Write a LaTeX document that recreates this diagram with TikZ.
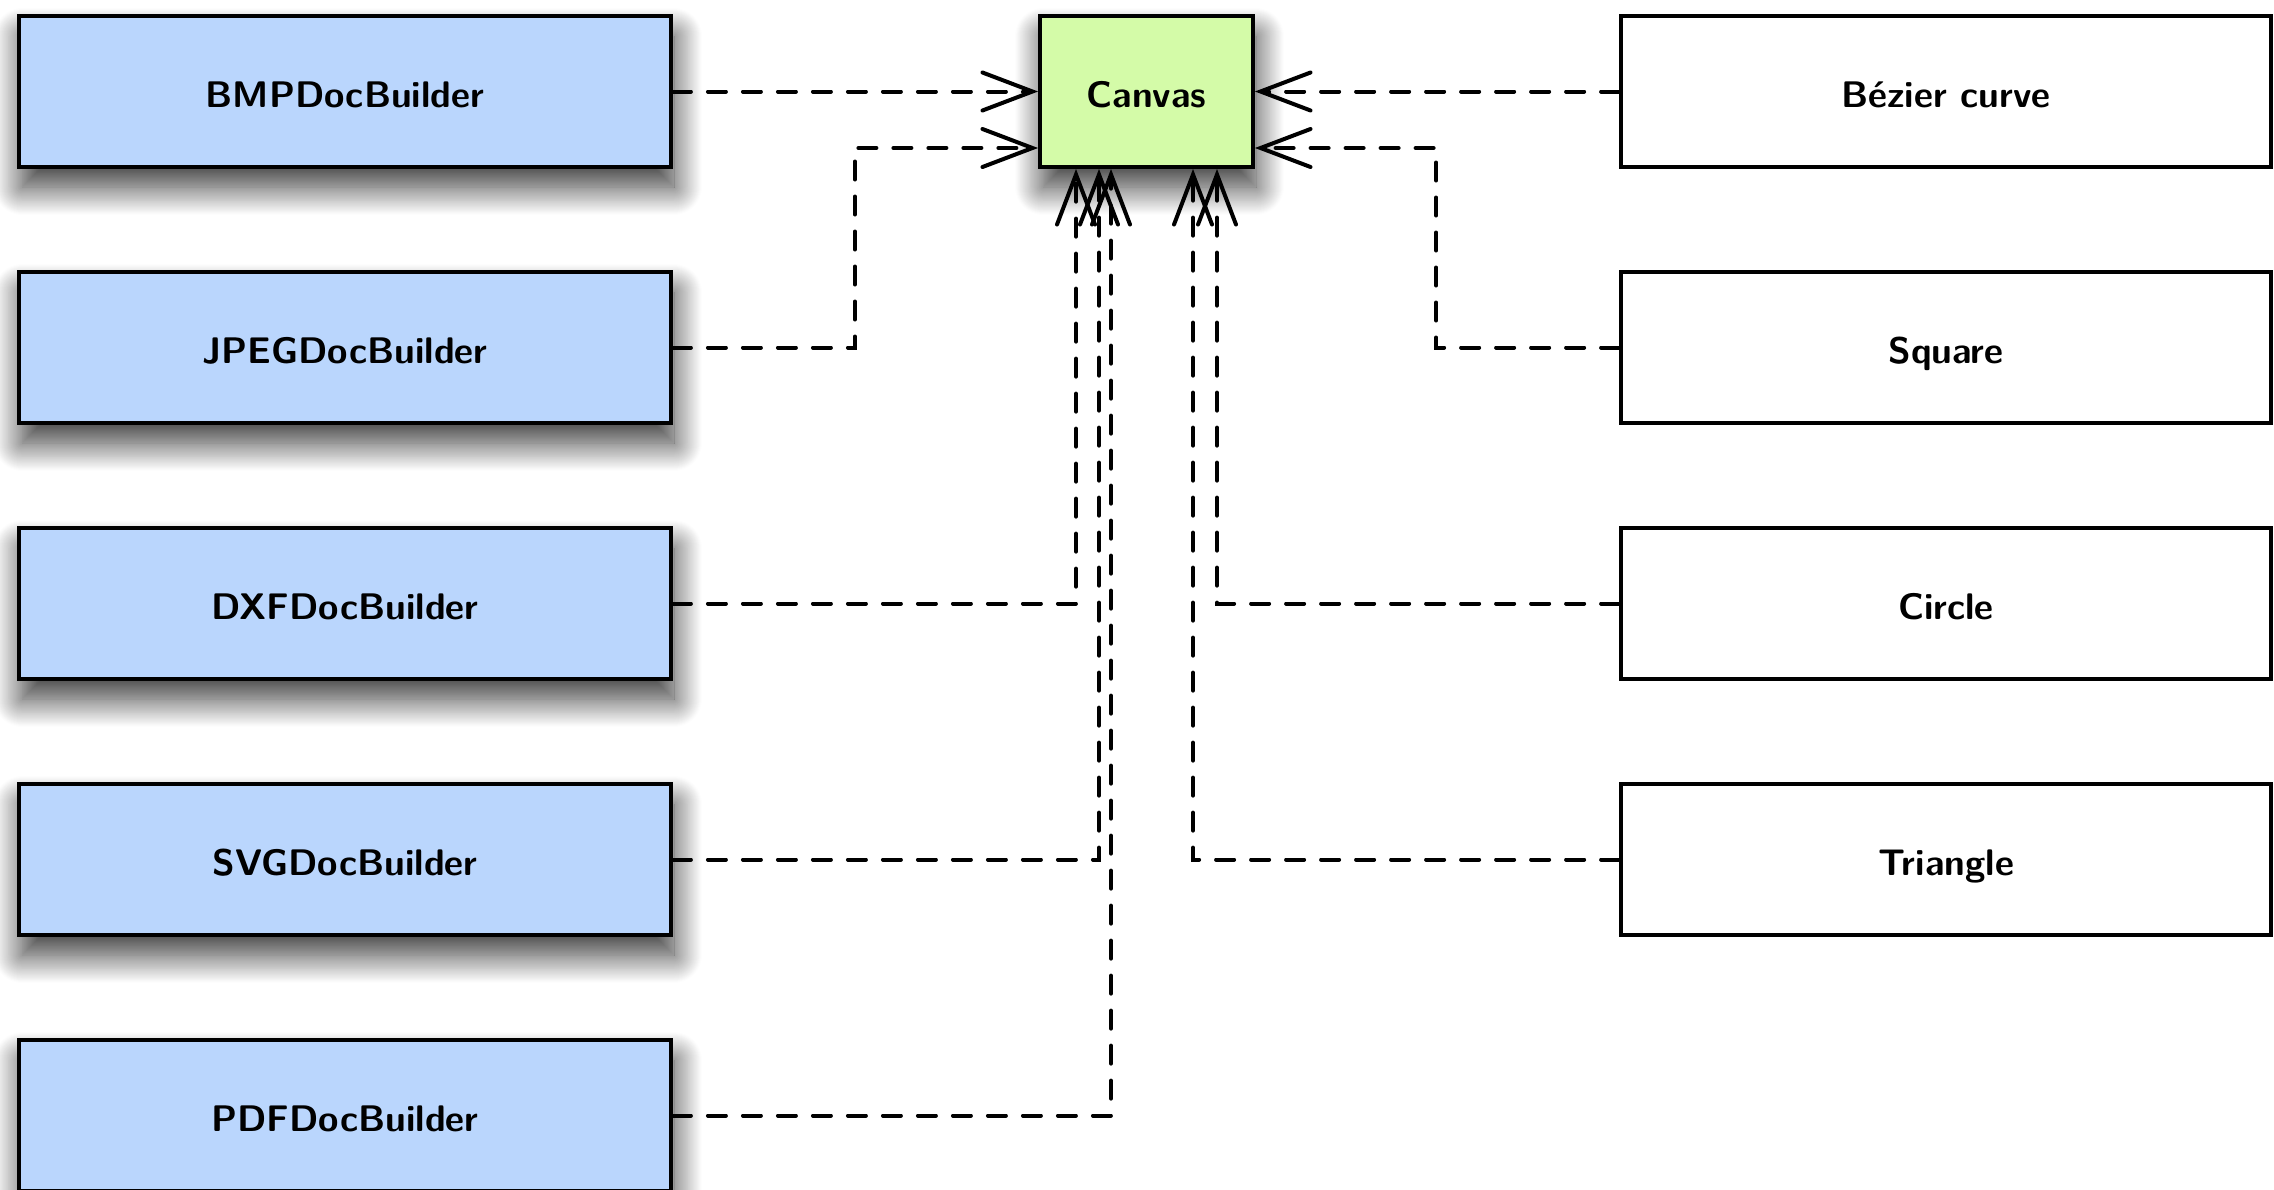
\documentclass[tikz,border=0pt]{standalone}
\usetikzlibrary{arrows.meta,shadows.blur,calc}
\definecolor{builderblue}{RGB}{186,214,253}
\definecolor{canvasgreen}{RGB}{212,251,168}
\begin{document}
\begin{tikzpicture}[x=1pt,y=-1pt,
  every node/.style={font=\fontsize{37}{44}\selectfont\sffamily\bfseries},
  boxbase/.style={draw=black,line width=3.8pt,minimum height=151pt,inner sep=0pt,
    text height=35pt,text depth=4pt},
  shade/.style={blur shadow={shadow xshift=3pt,shadow yshift=-20pt,shadow blur radius=28pt,
    shadow blur steps=30,shadow opacity=80}},
  builder/.style={boxbase,fill=builderblue,minimum width=652pt,shade},
  shapebox/.style={boxbase,fill=white,minimum width=650pt},
  canvasbox/.style={boxbase,fill=canvasgreen,minimum width=213pt,shade},
  dep/.style={line width=4pt,line cap=round,dash pattern=on 18pt off 17pt,
    -{Straight Barb[length=50pt,width=38pt,line cap=round]}}
]
\useasboundingbox (0,0) rectangle (2274,1189);
\clip (0,0) rectangle (2274,1189);

\node[builder] (bmp)  at (345,91.5)   {BMPDocBuilder};
\node[builder] (jpeg) at (345,347.5)  {JPEGDocBuilder};
\node[builder] (dxf)  at (345,603.5)  {DXFDocBuilder};
\node[builder] (svg)  at (345,859.5)  {SVGDocBuilder};
\node[builder] (pdf)  at (345,1115.5) {PDFDocBuilder};

\node[canvasbox] (canvas) at (1146.5,91.5) {Canvas};

\node[shapebox] (bez)  at (1946,91.5)  {Bézier curve};
\node[shapebox] (sq)   at (1946,347.5) {Square};
\node[shapebox] (circ) at (1946,603.5) {Circle};
\node[shapebox] (tri)  at (1946,859.5) {Triangle};

\draw[dep] (bmp.east) -- (canvas.west);
\draw[dep] (jpeg.east) -- ++(182,0) |- ([yshift=-56.5pt]canvas.west);
\draw[dep] (dxf.east) -| ([xshift=-70.5pt]canvas.south);
\draw[dep] (svg.east) -| ([xshift=-47.5pt]canvas.south);
\draw[dep] (pdf.east) -| ([xshift=-35.5pt]canvas.south);

\draw[dep] (bez.west) -- (canvas.east);
\draw[dep] (sq.west) -- ++(-183,0) |- ([yshift=-56.5pt]canvas.east);
\draw[dep] (circ.west) -| ([xshift=70.5pt]canvas.south);
\draw[dep] (tri.west) -| ([xshift=46.5pt]canvas.south);
\end{tikzpicture}
\end{document}
